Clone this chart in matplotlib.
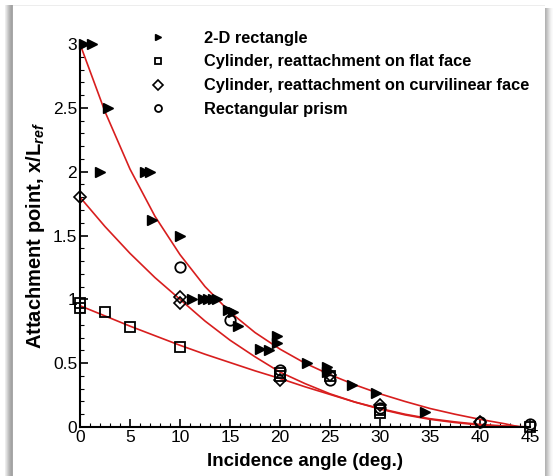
import numpy as np
import matplotlib

matplotlib.use("Agg")
import matplotlib.pyplot as plt
from matplotlib.patches import Rectangle
from matplotlib.ticker import MultipleLocator, FormatStrFormatter

plt.rcParams["font.family"] = ["Liberation Sans", "DejaVu Sans"]
plt.rcParams["mathtext.fontset"] = "custom"
plt.rcParams["mathtext.rm"] = "Liberation Sans:bold"
plt.rcParams["mathtext.it"] = "Liberation Sans:bold:italic"
plt.rcParams["mathtext.bf"] = "Liberation Sans:bold"

# ── Data ────────────────────────────────────────────────────────────────────
rect2d_x = [0.4, 1.2, 2.8, 2.0, 6.5, 7.0, 7.2, 10.0, 11.2, 12.3, 12.8, 13.3,
            13.7, 14.8, 15.3, 15.8, 18.0, 18.9, 19.7, 19.7, 22.7, 24.7, 24.7,
            27.2, 29.6, 34.5]
rect2d_y = [3.0, 3.0, 2.5, 2.0, 2.0, 2.0, 1.62, 1.5, 1.0, 1.0, 1.0, 1.0,
            1.0, 0.92, 0.90, 0.79, 0.61, 0.60, 0.71, 0.66, 0.50, 0.47, 0.43,
            0.33, 0.27, 0.12]

flat_x = [0, 0, 2.5, 5, 10, 20, 20, 25, 30, 30, 45]
flat_y = [0.93, 0.97, 0.90, 0.78, 0.63, 0.42, 0.40, 0.40, 0.13, 0.11, 0.0]

curv_x = [0, 10, 10, 20, 25, 30, 40]
curv_y = [1.80, 1.02, 0.97, 0.37, 0.41, 0.17, 0.04]

prism_x = [10, 15, 20, 25, 30, 40, 45]
prism_y = [1.25, 0.84, 0.45, 0.37, 0.15, 0.04, 0.02]

# fitted curves
fit_x = [0, 2.5, 5, 7.5, 10, 12.5, 15, 17.5, 20, 22.5, 25, 27.5, 30, 32.5,
         35, 37.5, 40, 42.5, 45]
fit_rect_x = fit_x[:-1] + [44]
fit_rect_y = [3.0, 2.47, 2.02, 1.65, 1.35, 1.10, 0.90, 0.74, 0.61, 0.50,
              0.41, 0.33, 0.26, 0.20, 0.145, 0.10, 0.06, 0.025, 0.0]
fit_curv_y = [1.80, 1.57, 1.36, 1.17, 1.00, 0.83, 0.68, 0.55, 0.43, 0.34,
              0.26, 0.195, 0.145, 0.10, 0.065, 0.04, 0.02, 0.008, 0.0]
fit_flat_y = [0.95, 0.87, 0.79, 0.715, 0.64, 0.57, 0.505, 0.44, 0.38, 0.315,
              0.255, 0.195, 0.14, 0.095, 0.06, 0.035, 0.015, 0.005, 0.0]

labels = ["2-D rectangle",
          "Cylinder, reattachment on flat face",
          "Cylinder, reattachment on curvilinear face",
          "Rectangular prism"]

# ── Figure ──────────────────────────────────────────────────────────────────
fig = plt.figure(figsize=(5.55, 4.76), dpi=100)
fig.patch.set_facecolor("white")

W, H = 555.0, 476.0
# drop shadow strips on the left and right
for i, g in enumerate([0.93, 0.88, 0.82, 0.76, 0.71, 0.67, 0.64, 0.66]):
    fig.add_artist(Rectangle(((5 + i) / W, 0), 1 / W, 1 - 5 / H,
                             transform=fig.transFigure, color=(g, g, g), lw=0))
for i, g in enumerate([0.70, 0.74, 0.79, 0.84, 0.89, 0.93, 0.96, 0.98]):
    fig.add_artist(Rectangle(((545 + i) / W, 0), 1 / W, 1 - 8 / H,
                             transform=fig.transFigure, color=(g, g, g), lw=0))
fig.add_artist(Rectangle((13 / W, 1 - 5.5 / H), 532 / W, 0.5 / H,
                         transform=fig.transFigure, color="0.93", lw=0))

ax = fig.add_axes([80 / W, (H - 427) / H, 450 / W, 383 / H])
ax.set_xlim(0, 45)
ax.set_ylim(0, 3)

red = "#d81e1e"
ax.plot(fit_rect_x, fit_rect_y, color=red, lw=1.2, zorder=2)
ax.plot(fit_x, fit_curv_y, color=red, lw=1.2, zorder=2)
ax.plot(fit_x, fit_flat_y, color=red, lw=1.2, zorder=2)

ax.plot(rect2d_x, rect2d_y, ">", color="black", ms=6.5, ls="none",
        clip_on=False, zorder=3, label=labels[0])
ax.plot(flat_x, flat_y, "s", mfc="none", mec="black", mew=1.3, ms=6.5,
        ls="none", clip_on=False, zorder=3, label=labels[1])
ax.plot(curv_x, curv_y, "D", mfc="none", mec="black", mew=1.2, ms=6,
        ls="none", clip_on=False, zorder=3, label=labels[2])
ax.plot(prism_x, prism_y, "o", mfc="none", mec="black", mew=1.3, ms=7.5,
        ls="none", clip_on=False, zorder=3, label=labels[3])

for s in ["top", "right"]:
    ax.spines[s].set_visible(False)
for s in ["left", "bottom"]:
    ax.spines[s].set_linewidth(1.5)

ax.xaxis.set_major_locator(MultipleLocator(5))
ax.xaxis.set_minor_locator(MultipleLocator(1))
ax.yaxis.set_major_locator(MultipleLocator(0.5))
ax.yaxis.set_minor_locator(MultipleLocator(0.1))
ax.yaxis.set_major_formatter(FormatStrFormatter("%g"))
ax.tick_params(which="major", direction="in", length=6, width=1.2,
               labelsize=12.5, pad=2, top=False, right=False)
ax.tick_params(which="minor", direction="in", length=3, width=0.8,
               top=False, right=False)

ax.set_xlabel("Incidence angle (deg.)", fontsize=13.5, fontweight="bold",
              labelpad=6)
ax.set_ylabel(r"Attachment point, x/L$_{\mathit{ref}}$", fontsize=14.5,
              fontweight="bold", labelpad=4)

leg = ax.legend(loc="upper left", bbox_to_anchor=(0.14, 1.052), frameon=False,
                fontsize=11.8, handlelength=1.0, handletextpad=2.35,
                labelspacing=0.54, borderaxespad=0)
for t in leg.get_texts():
    t.set_fontweight("bold")
for h in leg.legend_handles:
    h.set_markersize(5)

fig.savefig("out.png", dpi=100)
